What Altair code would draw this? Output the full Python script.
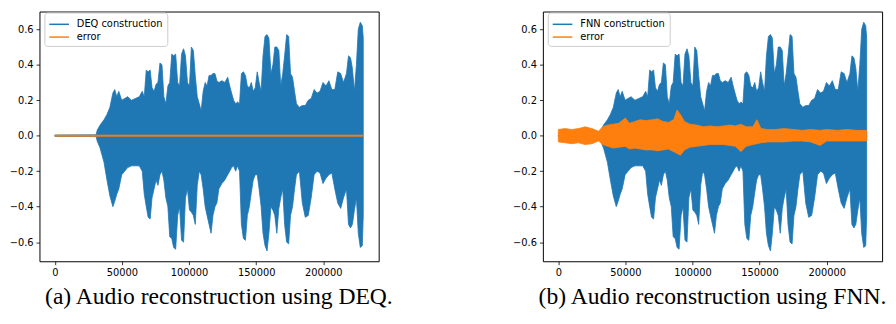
import altair as alt
import pandas as pd

# ---- waveform envelope (reconstructed signal) ----
sig_x = [0, 30700, 31500, 33700, 36600, 38800, 41000, 43200, 44600, 46100,
         47600, 49800, 52000, 54200, 57100, 60000, 62900, 65100, 66600, 68100,
         69500, 71000, 72400, 73900, 75400, 76800, 78300, 79800, 81200, 82700,
         84200, 85600, 87100, 88500, 90000, 91500, 92900, 94400, 95900, 97300,
         98800, 100300, 101700, 103200, 104600, 106100, 107600, 109000, 110500, 112000,
         113400, 114900, 116400, 117800, 119300, 120700, 122200, 124400, 126600, 128800,
         130300, 131700, 133200, 134700, 136100, 137600, 139000, 140500, 142000, 143400,
         144900, 146400, 147800, 149300, 150800, 152200, 153700, 155100, 156600, 158100,
         159500, 161000, 162500, 163900, 165400, 166900, 168300, 169800, 171200, 172700,
         174200, 175600, 177100, 178600, 180000, 182200, 184400, 186600, 188800, 191000,
         193200, 195400, 197600, 199800, 202000, 204200, 206400, 208600, 210800, 213000,
         215100, 217300, 218800, 220300, 221700, 223200, 224700, 226100, 227600, 229100,
         229800]
sig_hi = [0.004, 0.005, 0.03, 0.06, 0.09, 0.12, 0.16, 0.24, 0.26, 0.22,
          0.25, 0.20, 0.21, 0.22, 0.20, 0.21, 0.22, 0.25, 0.22, 0.37,
          0.36, 0.37, 0.27, 0.25, 0.29, 0.30, 0.41, 0.40, 0.22, 0.18,
          0.28, 0.30, 0.46, 0.45, 0.46, 0.30, 0.28, 0.46, 0.49, 0.45,
          0.30, 0.28, 0.50, 0.48, 0.34, 0.22, 0.18, 0.14, 0.25, 0.30,
          0.28, 0.34, 0.34, 0.35, 0.35, 0.31, 0.30, 0.31, 0.30, 0.33,
          0.28, 0.24, 0.20, 0.18, 0.19, 0.18, 0.35, 0.36, 0.34, 0.28,
          0.27, 0.30, 0.25, 0.27, 0.36, 0.30, 0.25, 0.45, 0.56, 0.57,
          0.55, 0.35, 0.40, 0.50, 0.50, 0.48, 0.28, 0.35, 0.45, 0.57,
          0.56, 0.35, 0.33, 0.25, 0.18, 0.16, 0.17, 0.17, 0.20, 0.21,
          0.26, 0.24, 0.25, 0.30, 0.28, 0.31, 0.26, 0.26, 0.36, 0.35,
          0.30, 0.35, 0.45, 0.44, 0.38, 0.25, 0.40, 0.60, 0.64, 0.62,
          0.55]
sig_lo = [-0.004, -0.005, -0.03, -0.07, -0.15, -0.25, -0.34, -0.40, -0.37, -0.33,
          -0.30, -0.22, -0.20, -0.18, -0.17, -0.17, -0.17, -0.20, -0.33, -0.40,
          -0.46, -0.47, -0.35, -0.30, -0.25, -0.28, -0.22, -0.20, -0.25, -0.35,
          -0.40, -0.57, -0.58, -0.63, -0.64, -0.45, -0.40, -0.59, -0.60, -0.35,
          -0.30, -0.42, -0.43, -0.45, -0.50, -0.28, -0.20, -0.22, -0.30, -0.40,
          -0.45, -0.50, -0.55, -0.45, -0.40, -0.38, -0.30, -0.27, -0.25, -0.22,
          -0.20, -0.18, -0.17, -0.20, -0.17, -0.20, -0.50, -0.58, -0.59, -0.45,
          -0.40, -0.32, -0.25, -0.22, -0.22, -0.30, -0.40, -0.55, -0.62, -0.65,
          -0.55, -0.40, -0.42, -0.45, -0.55, -0.41, -0.35, -0.30, -0.50, -0.60,
          -0.61, -0.45, -0.40, -0.30, -0.22, -0.20, -0.38, -0.46, -0.45, -0.35,
          -0.22, -0.20, -0.21, -0.27, -0.24, -0.22, -0.21, -0.30, -0.38, -0.41,
          -0.35, -0.30, -0.50, -0.52, -0.50, -0.42, -0.35, -0.55, -0.63, -0.62,
          -0.45]

# ---- DEQ error envelope ----
deq_err_x = [0, 30000, 90000, 150000, 229800]
deq_err_hi = [0.003, 0.003, 0.003, 0.003, 0.003]
deq_err_lo = [-0.003, -0.003, -0.003, -0.003, -0.003]

# ---- FNN error envelope ----
fnn_err_x = [0, 5000, 10000, 15000, 20000, 25000, 30000, 33000, 37000, 41000,
             45000, 50000, 53000, 57000, 61000, 65000, 70000, 74000, 78000, 82000,
             86000, 88500, 91000, 94000, 98000, 103000, 108000, 113000, 118000, 123000,
             128000, 132000, 136000, 140000, 145000, 148000, 151000, 156000, 162000, 168000,
             175000, 182000, 188000, 195000, 200000, 208000, 215000, 222000, 229800]
fnn_err_hi = [0.035, 0.04, 0.035, 0.04, 0.05, 0.04, 0.025, 0.05, 0.06, 0.065,
              0.07, 0.10, 0.07, 0.08, 0.09, 0.085, 0.09, 0.095, 0.08, 0.075,
              0.09, 0.145, 0.12, 0.08, 0.065, 0.06, 0.05, 0.055, 0.05, 0.055,
              0.06, 0.055, 0.065, 0.05, 0.05, 0.09, 0.04, 0.035, 0.035, 0.04,
              0.035, 0.03, 0.035, 0.03, 0.035, 0.03, 0.035, 0.03, 0.03]
fnn_err_lo = [-0.035, -0.04, -0.045, -0.04, -0.05, -0.045, -0.03, -0.05, -0.06, -0.07,
              -0.065, -0.06, -0.075, -0.07, -0.075, -0.08, -0.08, -0.085, -0.08, -0.075,
              -0.09, -0.10, -0.11, -0.08, -0.065, -0.06, -0.055, -0.05, -0.05, -0.05,
              -0.055, -0.06, -0.09, -0.06, -0.05, -0.045, -0.04, -0.035, -0.035, -0.035,
              -0.03, -0.03, -0.035, -0.055, -0.03, -0.03, -0.03, -0.03, -0.03]

x_ticks = [0, 50000, 100000, 150000, 200000]
y_ticks = [-0.6, -0.4, -0.2, 0.0, 0.2, 0.4, 0.6]
captions = ["(a) Audio reconstruction using DEQ.", "(b) Audio reconstruction using FNN."]
series_names = ["DEQ construction", "FNN construction"]
caption_dx = [10, 0]

BLUE = "#1f77b4"
ORANGE = "#ff7f0e"


def panel(name, ex, ehi, elo, caption, dx):
    sig = pd.DataFrame({"x": sig_x, "hi": sig_hi, "lo": sig_lo, "series": name})
    err = pd.DataFrame({"x": ex, "hi": ehi, "lo": elo, "series": "error"})
    scale = alt.Scale(domain=[name, "error"], range=[BLUE, ORANGE])
    legend = alt.Legend(
        title=None, orient="none", legendX=5, legendY=1,
        symbolType="M-1,0L1.857,0", symbolSize=196, symbolStrokeWidth=1.5,
        symbolOpacity=1, labelFont="DejaVu Sans", labelFontSize=10,
        labelColor="black", labelOffset=13, padding=4, rowPadding=0,
        strokeColor="#cccccc", cornerRadius=3, fillColor="white",
    )
    xenc = alt.X("x:Q", scale=alt.Scale(domain=[-11500, 241300], nice=False, zero=False),
                 axis=alt.Axis(values=x_ticks, format="d", title=None))
    yenc = alt.Y("hi:Q", stack=None, scale=alt.Scale(domain=[-0.708, 0.700], nice=False, zero=False),
                 axis=alt.Axis(values=y_ticks, format=".1f", title=None))
    enc = dict(x=xenc, y=yenc, y2="lo:Q",
               fill=alt.Fill("series:N", scale=scale, legend=legend),
               stroke=alt.Stroke("series:N", scale=scale, legend=legend))
    a = alt.Chart(sig).mark_area(opacity=1, strokeWidth=0.8, interpolate="linear").encode(**enc)
    b = alt.Chart(err).mark_area(opacity=1, strokeWidth=0.8, interpolate="linear").encode(**enc)
    return alt.layer(a, b).properties(
        width=345, height=254,
        title=alt.TitleParams(text=caption, orient="bottom", anchor="middle",
                              font="Liberation Serif", fontSize=24, fontWeight="normal",
                              color="black", offset=8, dx=dx),
    )


left = panel(series_names[0], deq_err_x, deq_err_hi, deq_err_lo, captions[0], caption_dx[0])
right = panel(series_names[1], fnn_err_x, fnn_err_hi, fnn_err_lo, captions[1], caption_dx[1])

chart = alt.hconcat(left, right, spacing=119).resolve_scale(fill="independent", stroke="independent").configure(
    padding={"left": 0, "top": 0, "right": 0, "bottom": 0}, background="white"
).configure_view(
    stroke="black", strokeWidth=1
).configure_axis(
    grid=False, domain=False, tickColor="black", tickSize=3.5, tickWidth=0.8,
    labelColor="black", labelFont="DejaVu Sans", labelFontSize=10, labelPadding=3,
)

chart.save("out.html", embed_options={"renderer": "svg", "actions": False})
